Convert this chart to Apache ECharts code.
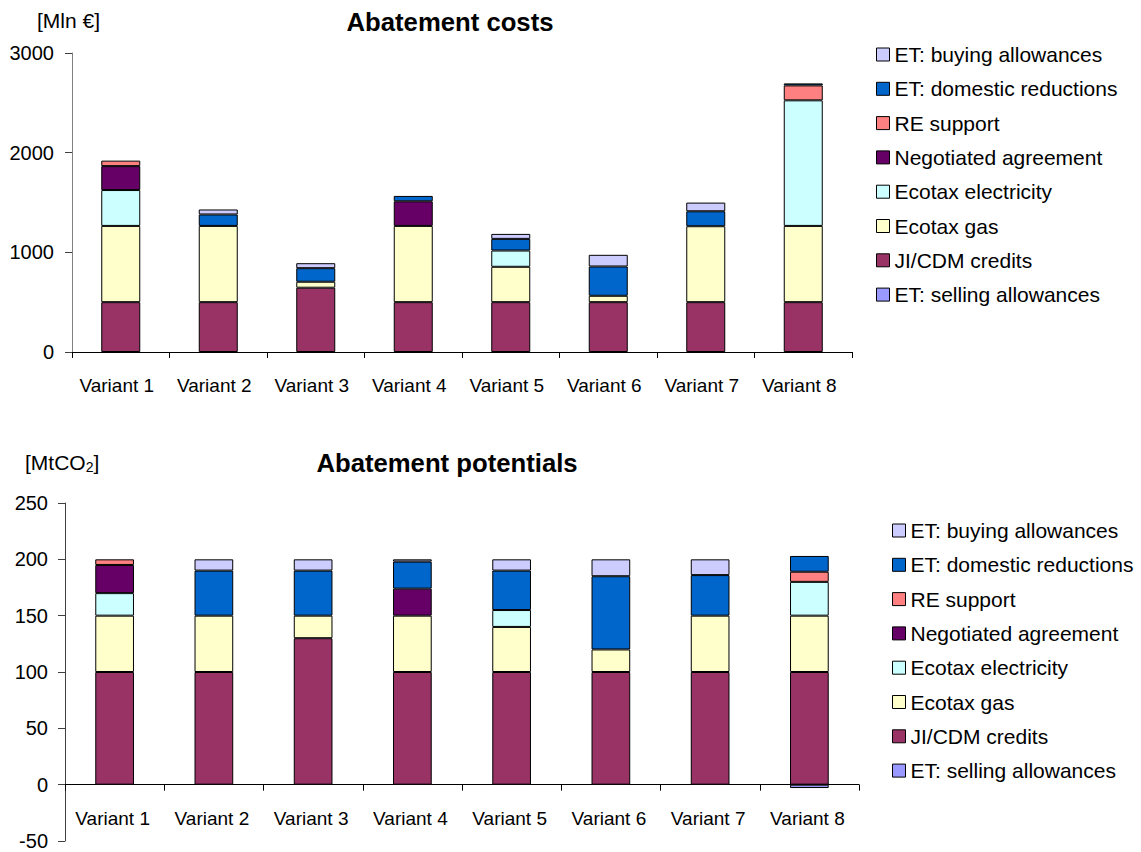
<!DOCTYPE html>
<html>
<head>
<meta charset="utf-8">
<script src="https://cdn.jsdelivr.net/npm/echarts@6/dist/echarts.min.js"></script>
<style>
html,body{margin:0;padding:0;background:#fff;}
#chart{width:1141px;height:852px;}
</style>
</head>
<body>
<div id="chart"></div>
<script>
// ---- Data ----
const categories = ['Variant 1','Variant 2','Variant 3','Variant 4','Variant 5','Variant 6','Variant 7','Variant 8'];
const seriesNames = ['ET: selling allowances','JI/CDM credits','Ecotax gas','Ecotax electricity','Negotiated agreement','RE support','ET: domestic reductions','ET: buying allowances'];
const seriesColors = ['#9999FF','#993366','#FFFFCC','#CCFFFF','#660066','#FF8080','#0066CC','#CCCCFF'];
const costTicks = [0, 1000, 2000, 3000];
const potentialTicks = [-50, 0, 50, 100, 150, 200, 250];

// Abatement costs [Mln €]
const costSelling  = [0, 0, 0, 0, 0, 0, 0, 0];
const costJICDM    = [500, 500, 645, 500, 500, 500, 500, 500];
const costGas      = [765, 765, 60, 765, 355, 64, 762, 765];
const costElec     = [360, 0, 0, 0, 163, 0, 0, 1260];
const costNegot    = [240, 0, 0, 247, 0, 0, 0, 0];
const costRE       = [55, 0, 0, 0, 0, 0, 0, 150];
const costDomestic = [0, 115, 136, 54, 117, 294, 150, 20];
const costBuying   = [0, 50, 50, 0, 50, 117, 87, 0];

// Abatement potentials [MtCO2]
const potSelling  = [0, 0, 0, 0, 0, 0, 0, -3];
const potJICDM    = [100, 100, 130, 100, 100, 100, 100, 100];
const potGas      = [50, 50, 20, 50, 40, 20, 50, 50];
const potElec     = [20, 0, 0, 0, 15, 0, 0, 30];
const potNegot    = [25, 0, 0, 24, 0, 0, 0, 0];
const potRE       = [5, 0, 0, 0, 0, 0, 0, 9];
const potDomestic = [0, 40, 40, 24, 35, 65, 36, 14];
const potBuying   = [0, 10, 10, 2, 10, 15, 14, 0];

const costData = [costSelling, costJICDM, costGas, costElec, costNegot, costRE, costDomestic, costBuying];
const potData  = [potSelling, potJICDM, potGas, potElec, potNegot, potRE, potDomestic, potBuying];

// ---- Chart ----
const FONT = '"Liberation Sans", Arial, sans-serif';
const chart = echarts.init(document.getElementById('chart'), null, {renderer: 'svg'});

const series = [];
seriesNames.forEach((name, i) => {
  const style = {color: seriesColors[i], borderColor: '#000', borderWidth: 1};
  series.push({
    name, type: 'bar', stack: 'costs', xAxisIndex: 0, yAxisIndex: 0,
    barWidth: '40%', itemStyle: style,
    data: costData[i].map(v => v === 0 ? '-' : v)
  });
  series.push({
    name, type: 'bar', stack: 'potentials', xAxisIndex: 1, yAxisIndex: 1,
    barWidth: '39%', itemStyle: style,
    data: potData[i].map(v => v === 0 ? '-' : v)
  });
});

const legendOrder = seriesNames.slice().reverse();
const legendBase = {
  orient: 'vertical',
  data: legendOrder,
  itemWidth: 13, itemHeight: 13,
  itemGap: 13.3,
  padding: 0,
  icon: 'rect',
  selectedMode: false,
  itemStyle: {borderColor: '#000', borderWidth: 1},
  textStyle: {fontFamily: FONT, fontSize: 21, color: '#000'}
};

const axisLabelStyle = {fontFamily: FONT, color: '#000'};
const plainNum = v => String(v);

chart.setOption({
  animation: false,
  backgroundColor: '#fff',
  textStyle: {fontFamily: FONT},
  grid: [
    {left: 72, top: 53, width: 780, height: 299, outerBoundsMode: 'none', containLabel: false},
    {left: 65, top: 503, width: 794, height: 338, outerBoundsMode: 'none', containLabel: false}
  ],
  legend: [
    Object.assign({}, legendBase, {left: 876, top: 44}),
    Object.assign({}, legendBase, {left: 892, top: 520})
  ],
  xAxis: [
    {
      gridIndex: 0, type: 'category', data: categories,
      axisLine: {lineStyle: {color: '#000', width: 1}},
      axisTick: {show: true, length: 6, lineStyle: {color: '#000'}},
      axisLabel: Object.assign({fontSize: 19, margin: 24, interval: 0, padding: [0, 8, 0, 0]}, axisLabelStyle)
    },
    {
      gridIndex: 1, type: 'category', data: categories,
      axisLine: {onZero: true, lineStyle: {color: '#000', width: 1}},
      axisTick: {show: true, length: 6, lineStyle: {color: '#000'}},
      axisLabel: Object.assign({fontSize: 19, margin: -32, interval: 0, padding: [0, 4, 0, 0]}, axisLabelStyle)
    }
  ],
  yAxis: [
    {
      gridIndex: 0, type: 'value',
      min: costTicks[0], max: costTicks[costTicks.length - 1], interval: costTicks[1] - costTicks[0],
      splitLine: {show: false},
      axisLine: {show: true, lineStyle: {color: '#808080', width: 1}},
      axisTick: {show: true, length: 7, lineStyle: {color: '#404040'}},
      axisLabel: Object.assign({fontSize: 20, margin: 18, formatter: plainNum}, axisLabelStyle)
    },
    {
      gridIndex: 1, type: 'value',
      min: potentialTicks[0], max: potentialTicks[potentialTicks.length - 1], interval: potentialTicks[1] - potentialTicks[0],
      splitLine: {show: false},
      axisLine: {show: true, lineStyle: {color: '#404040', width: 1}},
      axisTick: {show: true, length: 7, lineStyle: {color: '#404040'}},
      axisLabel: Object.assign({fontSize: 20, lineHeight: 16, margin: 17, formatter: plainNum}, axisLabelStyle)
    }
  ],
  graphic: [
    {type: 'text', x: 450, y: 22, style: {text: 'Abatement costs', fontFamily: FONT, fontSize: 25.7, fontWeight: 'bold', fill: '#000', align: 'center', verticalAlign: 'middle'}},
    {type: 'text', x: 447, y: 463, style: {text: 'Abatement potentials', fontFamily: FONT, fontSize: 25.7, fontWeight: 'bold', fill: '#000', align: 'center', verticalAlign: 'middle'}},
    {type: 'text', x: 37, y: 20, style: {text: '[Mln €]', fontFamily: FONT, fontSize: 21, fill: '#000', align: 'left', verticalAlign: 'middle'}},
    {type: 'text', x: 25, y: 462, style: {
      text: '[MtCO{sub|2}]', fontFamily: FONT, fontSize: 21, fill: '#000', align: 'left', verticalAlign: 'middle',
      rich: {sub: {fontFamily: FONT, fontSize: 14, fill: '#000', verticalAlign: 'bottom', padding: [9, 0, 0, 0]}}
    }}
  ],
  series
});
</script>
</body>
</html>
